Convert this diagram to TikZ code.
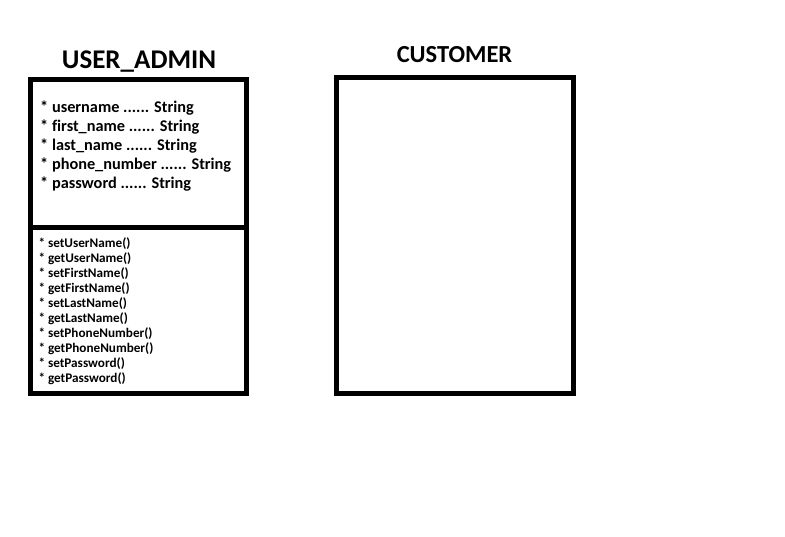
\documentclass[tikz,border=0pt]{standalone}
\usepackage{fontspec}
\setmainfont[Ligatures=CommonOff]{Carlito}
\usetikzlibrary{positioning}
\tikzset{
	classbox/.style={draw,line width=5pt,rectangle,inner sep=0pt,outer sep=0pt,anchor=north west},
	classtitle/.style={font=\bfseries\fontsize{27}{30}\selectfont,anchor=base,inner sep=0pt},
	attrtext/.style={font=\bfseries\fontsize{16.3}{18}\selectfont,anchor=base west,inner sep=0pt},
	methtext/.style={font=\bfseries\fontsize{13.2}{14}\selectfont,anchor=base west,inner sep=0pt}
}

\begin{document}
\begin{tikzpicture}[x=1pt,y=-1pt]
	\useasboundingbox (0,0) rectangle (785,537);
	% user admin class
	\node[classtitle](admintitle) at (139,68.3){USER\_ADMIN};
	\node[classbox,minimum width=216.5pt,minimum height=148.3pt](adminattr) at (30,79.7){};
	\node[classbox,minimum width=216.5pt,minimum height=166pt,below = 0pt of adminattr.south west,anchor=north west](adminmeth){};
	\foreach \a [count=\i] in {username,first\_name,last\_name,phone\_number,password}
		\node[attrtext](attr\i) at (40,{112.7+19*(\i-1)}){* \a{} ...... String};
	\foreach \m [count=\i] in {setUserName,getUserName,setFirstName,getFirstName,setLastName,getLastName,setPhoneNumber,getPhoneNumber,setPassword,getPassword}
		\node[methtext](meth\i) at (38.3,{247.5+15*(\i-1)}){* \m()};
	% customer class
	\node[classtitle,font=\bfseries\fontsize{24.5}{27}\selectfont](custtitle) at (454.5,62.5){CUSTOMER};
	\node[classbox,minimum width=236.6pt,minimum height=316.3pt](customer) at (336.7,77.2){};
\end{tikzpicture}
\end{document}
